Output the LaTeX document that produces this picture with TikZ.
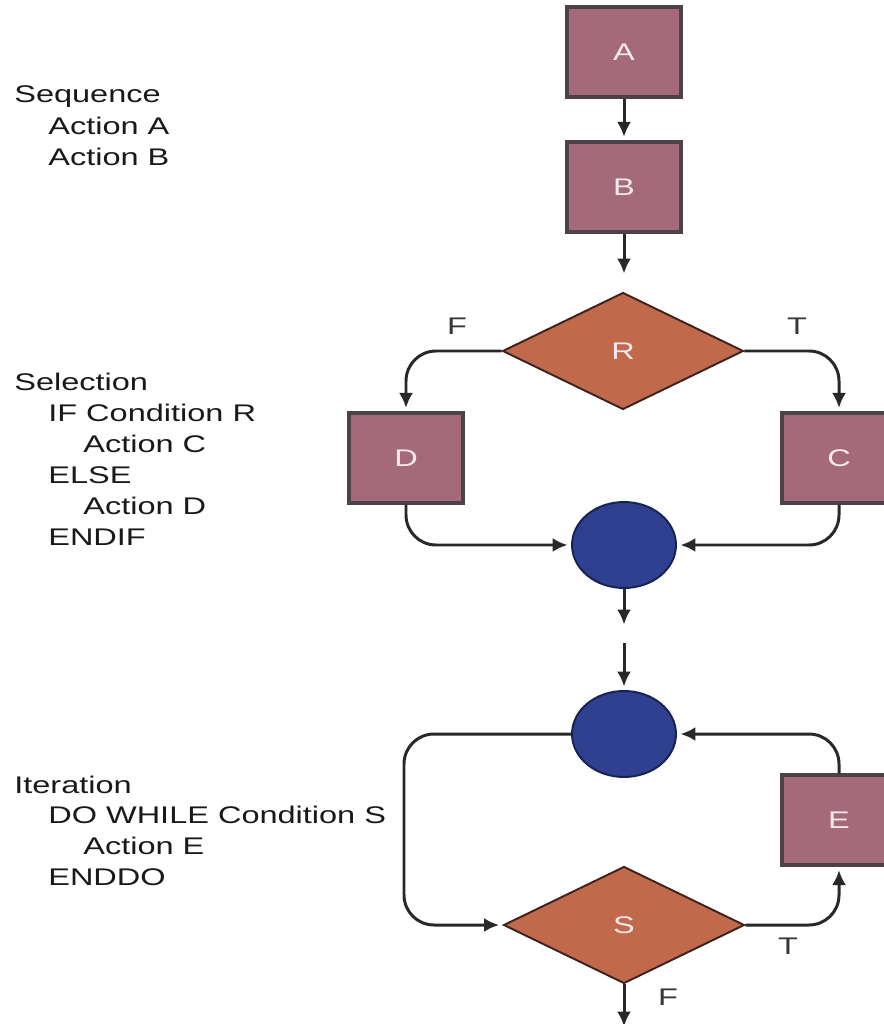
\documentclass[tikz,border=0pt]{standalone}
\usepackage{fontspec}
\setmainfont[FakeStretch=1.35]{Liberation Sans}
\usetikzlibrary{arrows.meta, shapes.geometric, positioning}

\definecolor{boxfill}{RGB}{164,106,121}
\definecolor{boxline}{RGB}{78,66,74}
\definecolor{boxtext}{RGB}{246,232,236}
\definecolor{diafill}{RGB}{192,105,75}
\definecolor{dialine}{RGB}{62,34,30}
\definecolor{elfill}{RGB}{47,64,145}
\definecolor{elline}{RGB}{24,34,80}
\definecolor{flowline}{RGB}{40,40,40}
\definecolor{codetext}{RGB}{25,25,25}
\definecolor{tftext}{RGB}{55,55,55}

\begin{document}
\begin{tikzpicture}[x=0.02cm, y=-0.02cm,
    every node/.style={font=\fontsize{13.7}{16}\selectfont},
    action/.style={draw=boxline, fill=boxfill, line width=1.8pt, minimum width=2.28cm, minimum height=1.8cm, text=boxtext, inner sep=0pt},
    test/.style={diamond, draw=dialine, fill=diafill, line width=1.1pt, minimum width=4.82cm, minimum height=2.34cm, text=boxtext, inner sep=0pt},
    merge/.style={ellipse, draw=elline, fill=elfill, line width=1.1pt, minimum width=2.08cm, minimum height=1.72cm},
    flow/.style={-{Latex[length=8.5pt,width=8pt]}, draw=flowline, line width=1.7pt, rounded corners=0.6cm, shorten >=2pt},
    code/.style={anchor=base west, text=codetext, inner sep=0pt},
    tf/.style={text=tftext, inner sep=0pt}]
    \clip (0,0) rectangle (884,1024);

    % pseudo code %
      \node[code] (seq) at (14,103) {Sequence};
      \node[code] (seqa) at (48,134) {Action A};
      \node[code] (seqb) at (48,165) {Action B};
      \node[code] (sel) at (14,390) {Selection};
      \node[code] (selif) at (48,421) {IF Condition R};
      \node[code] (selc) at (83,452) {Action C};
      \node[code] (selelse) at (48,483) {ELSE};
      \node[code] (seld) at (83,514) {Action D};
      \node[code] (selend) at (48,545) {ENDIF};
      \node[code] (itr) at (14,793) {Iteration};
      \node[code] (itrdo) at (48,823) {DO WHILE Condition S};
      \node[code] (itre) at (83,854) {Action E};
      \node[code] (itrend) at (48,885) {ENDDO};

    % nodes %
      \node[action] (a) at (624,52) {A};
      \node[action] (b) at (624,187) {B};
      \coordinate (bout) at (624,277);
      \node[test] (r) at (623,351) {R};
      \node[action] (d) at (406,458) {D};
      \node[action] (c) at (839,458) {C};
      \node[merge] (j1) at (624,545) {};
      \coordinate (j1out) at (624,628);
      \coordinate (j2in) at (624,643);
      \node[merge] (j2) at (624,734) {};
      \node[action] (e) at (839,820) {E};
      \node[test] (s) at (624,925) {S};
      \coordinate (loopl) at (404,830);
      \coordinate (sout) at (624,1030);

      % labels %
      \node[tf] (rf) at (457,326) {F};
      \node[tf] (rt) at (797,326) {T};
      \node[tf] (st) at (788,946) {T};
      \node[tf] (sf) at (668,997) {F};

      % edges %
      \draw[flow] (a) -- (b);
      \draw[flow] (b) -- (bout);
      \draw[flow] (r.west) -| (d.north);
      \draw[flow] (r.east) -| (c.north);
      \draw[flow] (d.south) |- (j1.west);
      \draw[flow] (c.south) |- (j1.east);
      \draw[flow] (j1.south) -- (j1out);
      \draw[flow] (j2in) -- (j2.north);
      \draw[flow] (j2.west) -| (loopl) |- (s.west);
      \draw[flow] (s.east) -| (e.south);
      \draw[flow] (e.north) |- (j2.east);
      \draw[flow] (s.south) -- (sout);
    \end{tikzpicture}
\end{document}
